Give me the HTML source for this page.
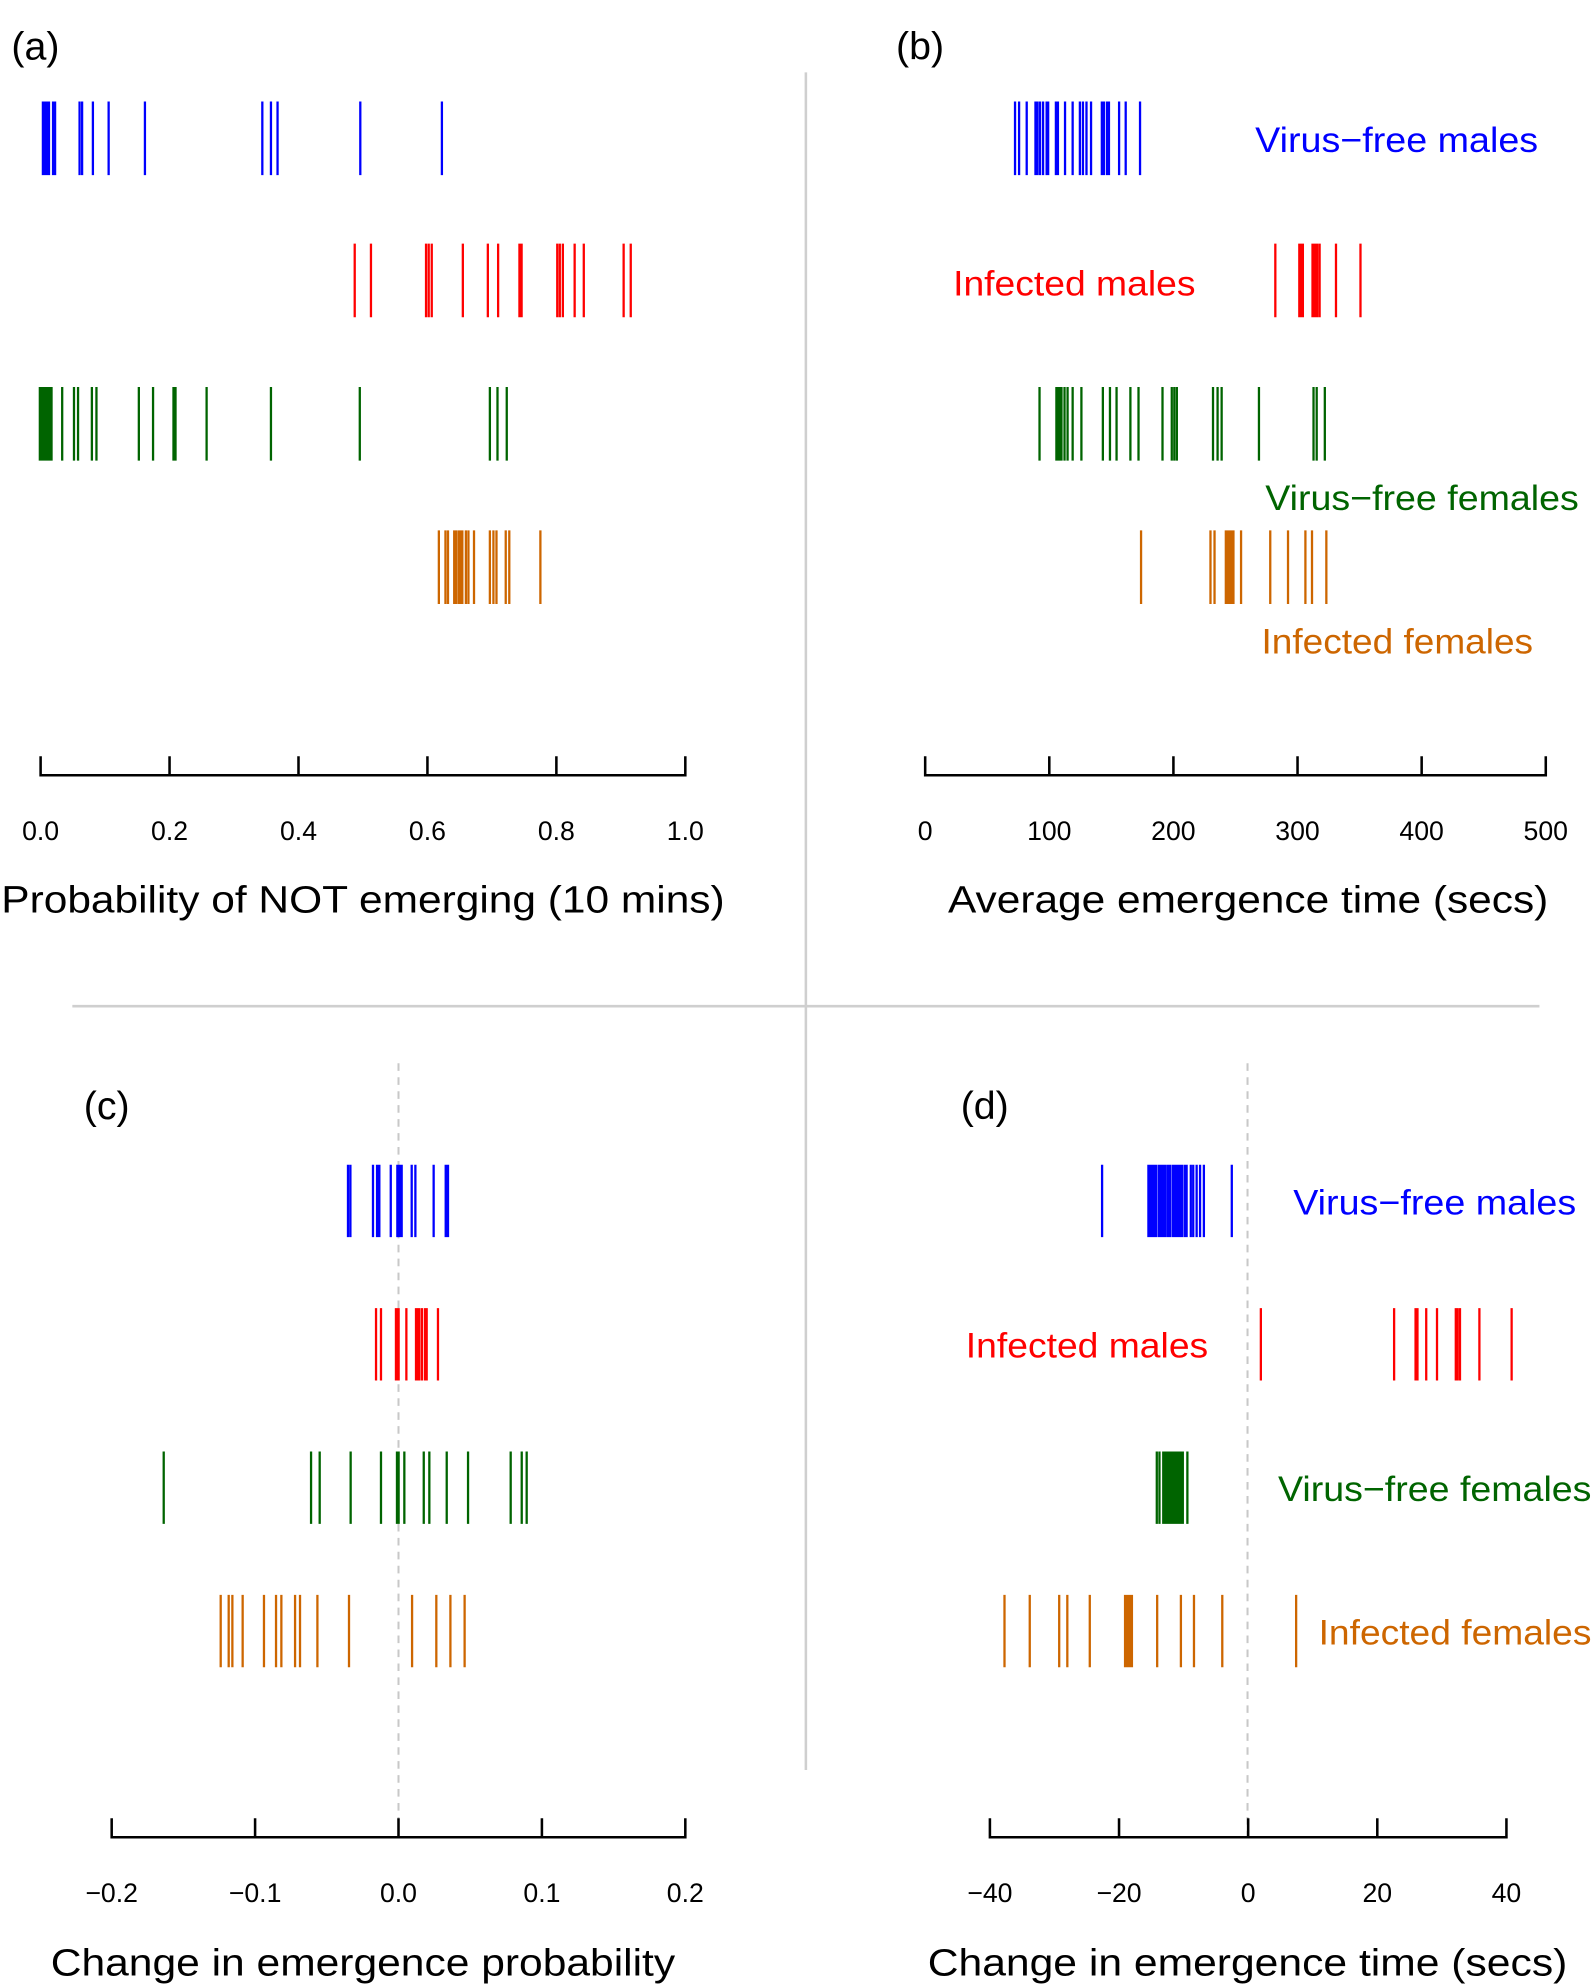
<!DOCTYPE html>
<html><head><meta charset="utf-8"><style>
html,body{margin:0;padding:0;background:#fff;width:1594px;height:1987px;overflow:hidden}
svg{display:block}
text{font-family:"Liberation Sans",Arial,sans-serif}
</style></head><body>
<svg width="1594" height="1987" viewBox="0 0 1256 1566" preserveAspectRatio="none" xmlns="http://www.w3.org/2000/svg">
<rect width="1256" height="1566" fill="#fff"/>
<!-- dividers -->
<path d="M635 57V1395M57 793H1213" stroke="#cfcfcf" stroke-width="2" fill="none"/>
<!-- dashed zero lines -->
<path d="M314 838V1448M983 838V1448" stroke="#c8c8c8" stroke-width="1.6" stroke-dasharray="6 5" fill="none"/>

<!-- panel labels -->
<g font-size="31" fill="#000">
<text x="9" y="47">(a)</text>
<text x="706" y="47">(b)</text>
<text x="66" y="882">(c)</text>
<text x="757" y="882">(d)</text>
</g>

<!-- axes -->
<g stroke="#000" stroke-width="2" fill="none">
<path d="M32 596V611H540V596M133.6 596V611M235.2 596V611M336.8 596V611M438.4 596V611"/>
<path d="M729 596V611H1218V596M826.8 596V611M924.6 596V611M1022.4 596V611M1120.2 596V611"/>
<path d="M88 1433V1448H540V1433M201 1433V1448M314 1433V1448M427 1433V1448"/>
<path d="M780 1433V1448H1187V1433M881.75 1433V1448M983.5 1433V1448M1085.25 1433V1448"/>
</g>
<g font-size="21" fill="#000" text-anchor="middle">
<text x="32" y="662">0.0</text><text x="133.6" y="662">0.2</text><text x="235.2" y="662">0.4</text><text x="336.8" y="662">0.6</text><text x="438.4" y="662">0.8</text><text x="540" y="662">1.0</text>
<text x="729" y="662">0</text><text x="826.8" y="662">100</text><text x="924.6" y="662">200</text><text x="1022.4" y="662">300</text><text x="1120.2" y="662">400</text><text x="1218" y="662">500</text>
<text x="88" y="1499">−0.2</text><text x="201" y="1499">−0.1</text><text x="314" y="1499">0.0</text><text x="427" y="1499">0.1</text><text x="540" y="1499">0.2</text>
<text x="780" y="1499">−40</text><text x="881.75" y="1499">−20</text><text x="983.5" y="1499">0</text><text x="1085.25" y="1499">20</text><text x="1187" y="1499">40</text>
</g>
<g font-size="30" fill="#000">
<text x="1" y="719" textLength="570" lengthAdjust="spacingAndGlyphs">Probability of NOT emerging (10 mins)</text>
<text x="747" y="719" textLength="473" lengthAdjust="spacingAndGlyphs">Average emergence time (secs)</text>
<text x="40" y="1557" textLength="492" lengthAdjust="spacingAndGlyphs">Change in emergence probability</text>
<text x="731" y="1557" textLength="504" lengthAdjust="spacingAndGlyphs">Change in emergence time (secs)</text>
</g>

<!-- series labels -->
<g font-size="28">
<text x="989" y="120" fill="#0000ff" textLength="223" lengthAdjust="spacingAndGlyphs">Virus−free males</text>
<text x="751" y="233" fill="#ff0000" textLength="191" lengthAdjust="spacingAndGlyphs">Infected males</text>
<text x="997" y="402" fill="#006400" textLength="247" lengthAdjust="spacingAndGlyphs">Virus−free females</text>
<text x="994" y="515" fill="#cd6600" textLength="214" lengthAdjust="spacingAndGlyphs">Infected females</text>
<text x="1019" y="957" fill="#0000ff" textLength="223" lengthAdjust="spacingAndGlyphs">Virus−free males</text>
<text x="761" y="1070" fill="#ff0000" textLength="191" lengthAdjust="spacingAndGlyphs">Infected males</text>
<text x="1007" y="1183" fill="#006400" textLength="247" lengthAdjust="spacingAndGlyphs">Virus−free females</text>
<text x="1039" y="1296" fill="#cd6600" textLength="215" lengthAdjust="spacingAndGlyphs">Infected females</text>
</g>

<g stroke-width="1.8" fill="none">
<!-- panel a -->
<path stroke="#0000ff" d="M33.8 80v58M35.4 80v58M37 80v58M38.6 80v58M41.8 80v58M43.4 80v58M62.7 80v58M64.7 80v58M73.2 80v58M85.6 80v58M114.2 80v58M206.7 80v58M213.5 80v58M218.7 80v58M283.9 80v58M348.2 80v58"/>
<path stroke="#ff0000" d="M279.5 192v58M292.3 192v58M335.7 192v58M337.8 192v58M340.2 192v58M364.7 192v58M384.4 192v58M392.5 192v58M409.3 192v58M411 192v58M439.1 192v58M441.1 192v58M443.5 192v58M452.8 192v58M460 192v58M491.4 192v58M497 192v58"/>
<path stroke="#006400" d="M31.4 305v58M32.2 305v58M33 305v58M34.2 305v58M35.4 305v58M36.6 305v58M37.8 305v58M39 305v58M40.6 305v58M49 305v58M58.3 305v58M61.5 305v58M72.4 305v58M76 305v58M109.4 305v58M120.6 305v58M136.7 305v58M138.3 305v58M162.8 305v58M213.5 305v58M283.5 305v58M386 305v58M392 305v58M399.3 305v58"/>
<path stroke="#cd6600" d="M345.8 418v58M351 418v58M353 418v58M357.9 418v58M359.5 418v58M361.5 418v58M363.1 418v58M364.3 418v58M367.1 418v58M369.1 418v58M373.5 418v58M386 418v58M388.8 418v58M391.2 418v58M398.5 418v58M401.3 418v58M425.8 418v58"/>
<!-- panel b -->
<path stroke="#0000ff" d="M799.8 80v58M803 80v58M809 80v58M815.9 80v58M817.5 80v58M819.5 80v58M821.9 80v58M824.7 80v58M825.9 80v58M832 80v58M833.6 80v58M839.2 80v58M845.2 80v58M850.9 80v58M853.3 80v58M856.1 80v58M859.7 80v58M868.2 80v58M869.8 80v58M872.2 80v58M873.8 80v58M881.8 80v58M887 80v58M898.3 80v58"/>
<path stroke="#ff0000" d="M1004.9 192v58M1023.8 192v58M1025 192v58M1026.6 192v58M1034.2 192v58M1035.4 192v58M1036.7 192v58M1037.9 192v58M1039.8 192v58M1052.7 192v58M1072 192v58"/>
<path stroke="#006400" d="M819.1 305v58M832.4 305v58M833.6 305v58M834.8 305v58M836.4 305v58M838.8 305v58M841.2 305v58M845.2 305v58M852.1 305v58M869 305v58M874.6 305v58M879.8 305v58M890.7 305v58M897.1 305v58M916 305v58M923.3 305v58M925.3 305v58M927.3 305v58M955.8 305v58M959.4 305v58M962.6 305v58M992 305v58M1035 305v58M1037.5 305v58M1043.9 305v58"/>
<path stroke="#cd6600" d="M899.1 418v58M953.8 418v58M957 418v58M965.9 418v58M967.5 418v58M968.7 418v58M970.3 418v58M971.9 418v58M977.9 418v58M1000.9 418v58M1014.9 418v58M1028.6 418v58M1033.8 418v58M1045.1 418v58"/>
<!-- panel c -->
<path stroke="#0000ff" d="M274.2 918v57M276.1 918v57M293.9 918v57M297.1 918v57M298.9 918v57M307.9 918v57M313.1 918v57M314.1 918v57M315.2 918v57M316.5 918v57M324.4 918v57M327.3 918v57M341.7 918v57M351.2 918v57M353 918v57"/>
<path stroke="#ff0000" d="M296.3 1031v57M300.2 1031v57M312 1031v57M313.1 1031v57M314.1 1031v57M320.2 1031v57M327.8 1031v57M329.1 1031v57M330.4 1031v57M332.5 1031v57M334.9 1031v57M336.2 1031v57M345.1 1031v57"/>
<path stroke="#006400" d="M129 1144v57M245.1 1144v57M251.9 1144v57M276.3 1144v57M300.2 1144v57M312.8 1144v57M314.1 1144v57M318.6 1144v57M333.9 1144v57M338.3 1144v57M352 1144v57M368.8 1144v57M402.4 1144v57M411.1 1144v57M415 1144v57"/>
<path stroke="#cd6600" d="M173.9 1257v57M180.2 1257v57M183.1 1257v57M191.2 1257v57M208 1257v57M217.5 1257v57M221.7 1257v57M232.5 1257v57M236.4 1257v57M250.1 1257v57M275 1257v57M324.7 1257v57M343.8 1257v57M354.9 1257v57M366.1 1257v57"/>
<!-- panel d -->
<path stroke="#0000ff" d="M868.4 918v57M904.9 918v57M906.4 918v57M907.9 918v57M909.4 918v57M911.2 918v57M913.3 918v57M914.8 918v57M916.6 918v57M918.4 918v57M920.3 918v57M922.1 918v57M924.2 918v57M925.4 918v57M926.9 918v57M928.4 918v57M929.9 918v57M931.4 918v57M933.5 918v57M935 918v57M938.3 918v57M940.2 918v57M942.9 918v57M945.6 918v57M948.6 918v57M970.6 918v57"/>
<path stroke="#ff0000" d="M993.5 1031v57M1098.5 1031v57M1115.4 1031v57M1116.9 1031v57M1123.8 1031v57M1132.3 1031v57M1147.1 1031v57M1148.5 1031v57M1150.4 1031v57M1165.7 1031v57M1191.1 1031v57"/>
<path stroke="#006400" d="M911.5 1144v57M913.6 1144v57M916.6 1144v57M918.4 1144v57M920 1144v57M921.2 1144v57M922.4 1144v57M923.6 1144v57M924.8 1144v57M926 1144v57M927.2 1144v57M928.4 1144v57M929.6 1144v57M930.8 1144v57M932 1144v57M935.6 1144v57"/>
<path stroke="#cd6600" d="M791.5 1257v57M811.4 1257v57M834.6 1257v57M841 1257v57M858.7 1257v57M886.5 1257v57M888.3 1257v57M890.1 1257v57M891.9 1257v57M911.8 1257v57M930.5 1257v57M940.8 1257v57M963.1 1257v57M1021.3 1257v57"/>
</g>
</svg>
</body></html>
